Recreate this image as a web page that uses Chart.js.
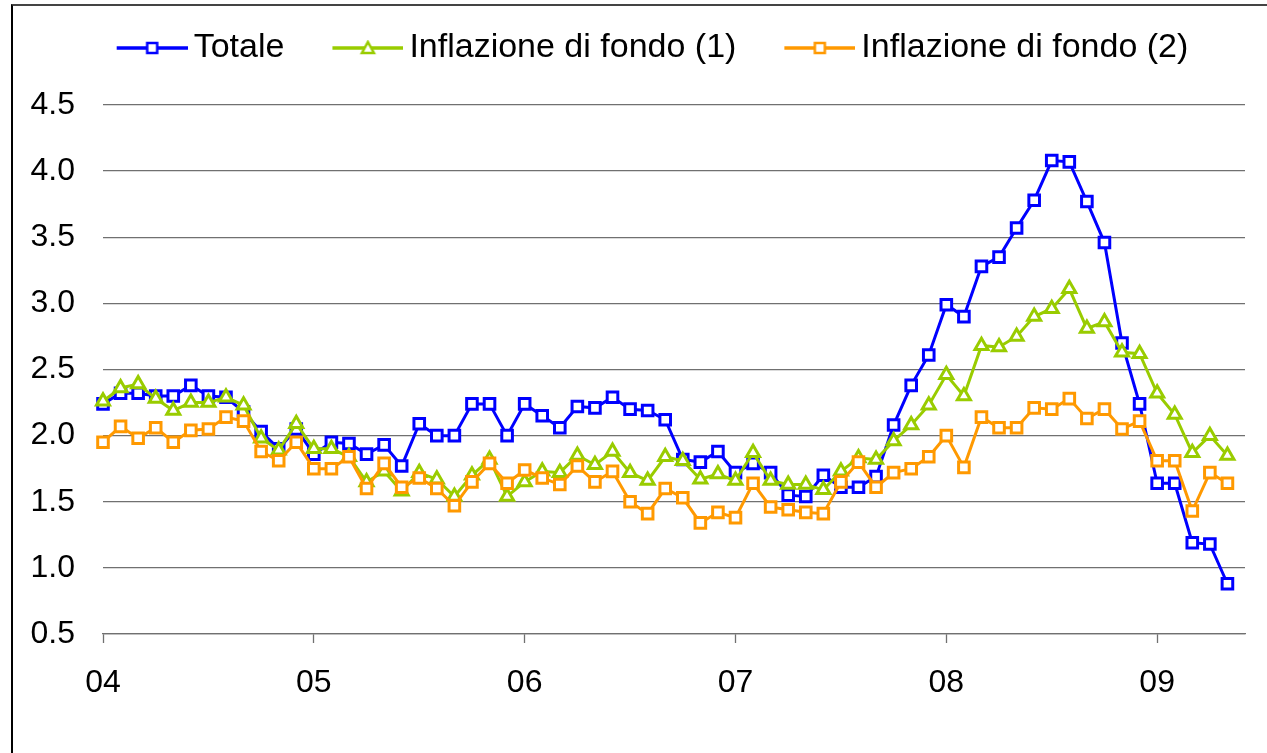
<!DOCTYPE html>
<html>
<head>
<meta charset="utf-8">
<script src="https://cdn.jsdelivr.net/npm/chart.js@4/dist/chart.umd.min.js"></script>
<style>
  html, body { margin: 0; padding: 0; background: #fff; }
  #wrap { position: relative; width: 1267px; height: 753px; overflow: hidden; }
  #frame { position: absolute; left: 11px; top: 4px; width: 1300px; height: 800px;
           border-left: 2px solid #000; border-top: 2px solid #444; }
  canvas { position: absolute; left: 0; top: 0; }
</style>
</head>
<body>
<div id="wrap"><div id="frame"></div><canvas id="chart" width="1267" height="753"></canvas></div>
<script>
// monthly data, Jan 2004 - May 2009
const anni = ['04', '05', '06', '07', '08', '09']
const mesi = []
for (let a of anni) {
    for (let m = 1; m <= 12; m++) mesi.push(m + '/' + a)
}
mesi.length = 66 // axis runs up to Jun 09

const totale = [
    2.24, 2.32, 2.32, 2.30, 2.30, 2.38, 2.30, 2.29, 2.18, 2.03, 1.90, 2.05,
    1.86, 1.95, 1.94, 1.86, 1.93, 1.77, 2.09, 2.00, 2.00, 2.24, 2.24, 2.00,
    2.24, 2.15, 2.06, 2.22, 2.21, 2.29, 2.20, 2.19, 2.12, 1.82, 1.80, 1.88,
    1.72, 1.79, 1.72, 1.55, 1.54, 1.70, 1.61, 1.61, 1.69, 2.08, 2.38, 2.61,
    2.99, 2.90, 3.28, 3.35, 3.57, 3.78, 4.08, 4.07, 3.77, 3.46, 2.70, 2.24,
    1.64, 1.64, 1.19, 1.18, 0.88
]
const fondo1 = [
    2.26, 2.36, 2.39, 2.28, 2.19, 2.25, 2.25, 2.29, 2.23, 1.98, 1.89, 2.09,
    1.90, 1.90, 1.84, 1.65, 1.73, 1.58, 1.72, 1.67, 1.54, 1.70, 1.82, 1.54,
    1.65, 1.73, 1.72, 1.85, 1.78, 1.88, 1.72, 1.66, 1.84, 1.81, 1.67, 1.71,
    1.66, 1.87, 1.66, 1.63, 1.63, 1.59, 1.73, 1.83, 1.82, 1.96, 2.08, 2.23,
    2.46, 2.30, 2.68, 2.67, 2.75, 2.90, 2.96, 3.11, 2.81, 2.86, 2.63, 2.62,
    2.32, 2.16, 1.87, 2.00, 1.85
]
const fondo2 = [
    1.95, 2.07, 1.98, 2.06, 1.95, 2.04, 2.05, 2.14, 2.11, 1.88, 1.81, 1.95,
    1.75, 1.75, 1.84, 1.60, 1.79, 1.61, 1.68, 1.60, 1.47, 1.65, 1.79, 1.64,
    1.74, 1.68, 1.63, 1.77, 1.65, 1.73, 1.50, 1.41, 1.60, 1.53, 1.34, 1.42,
    1.38, 1.64, 1.46, 1.44, 1.42, 1.41, 1.65, 1.80, 1.61, 1.72, 1.75, 1.84,
    2.00, 1.76, 2.14, 2.06, 2.06, 2.21, 2.20, 2.28, 2.13, 2.20, 2.05, 2.11,
    1.81, 1.81, 1.43, 1.72, 1.64
]

const BLU = '#0000ff'
const VERDE = '#99cc00'
const ARANCIO = '#ff9900'
const griglia = '#707070'
const fontFam = '"Liberation Sans", Arial, sans-serif'

Chart.defaults.font.family = fontFam

// little line+marker picture for the legend
function legendIcon(color, shape) {
    let c = document.createElement('canvas')
    c.width = 120
    c.height = 16
    let g = c.getContext('2d')
    g.strokeStyle = color
    g.lineWidth = 3.5
    g.beginPath()
    g.moveTo(49, 8)
    g.lineTo(120, 8)
    g.stroke()
    g.fillStyle = '#fff'
    g.lineWidth = 2.5
    if (shape === 'triangle') {
        g.beginPath()
        g.moveTo(84.5, 2)
        g.lineTo(90.5, 13)
        g.lineTo(78.5, 13)
        g.closePath()
        g.fill()
        g.stroke()
    } else {
        g.fillRect(79.5, 3, 10, 10)
        g.strokeRect(79.5, 3, 10, 10)
    }
    return c
}

function serie(label, data, color, shape, order) {
    return {
        label: label,
        data: data,
        borderColor: color,
        backgroundColor: '#fff',
        borderWidth: 3,
        pointStyle: shape,
        pointRadius: shape === 'triangle' ? 7.5 : 7.5,
        pointBorderWidth: 3,
        pointBackgroundColor: '#fff',
        pointBorderColor: color,
        tension: 0,
        order: order,
        xAxisID: 'x',
        yAxisID: 'y'
    }
}

const icone = [legendIcon(BLU, 'rect'), legendIcon(VERDE, 'triangle'), legendIcon(ARANCIO, 'rect')]

let chart = new Chart('chart', {
    type: 'line',
    data: {
        labels: mesi,
        datasets: [
            serie('Totale', totale, BLU, 'rect', 3),
            serie('Inflazione di fondo (1)', fondo1, VERDE, 'triangle', 2),
            serie('Inflazione di fondo (2)', fondo2, ARANCIO, 'rect', 1)
        ]
    },
    options: {
        responsive: false,
        animation: false,
        layout: { padding: { top: 21, left: 0, right: 0, bottom: 0 } },
        plugins: {
            tooltip: { enabled: false },
            legend: {
                position: 'top',
                labels: {
                    usePointStyle: true,
                    pointStyleWidth: 98,
                    padding: 10,
                    color: '#000',
                    font: { size: 34 },
                    sort: (a, b) => a.datasetIndex - b.datasetIndex,
                    generateLabels(ch) {
                        let items = Chart.defaults.plugins.legend.labels.generateLabels(ch)
                        items.forEach(it => { it.pointStyle = icone[it.datasetIndex] })
                        return items
                    }
                }
            }
        },
        scales: {
            x: {
                type: 'category',
                position: 'bottom',
                offset: false,
                grid: {
                    drawOnChartArea: false,
                    drawTicks: true,
                    tickLength: 9,
                    tickWidth: 1.3,
                    tickColor: c => (c.index % 12 === 0 ? griglia : 'rgba(0,0,0,0)')
                },
                border: { display: true, color: griglia, width: 1.3 },
                ticks: {
                    autoSkip: false,
                    maxRotation: 0,
                    minRotation: 0,
                    padding: 21,
                    color: '#000',
                    font: { size: 32 },
                    callback: (v, i) => (i % 12 === 0 ? anni[i / 12] : '')
                },
                afterFit(s) { s.height = 119 }
            },
            y: {
                min: 0.5,
                max: 4.5,
                grid: { color: griglia, lineWidth: 1.3, drawTicks: false },
                border: { display: false },
                ticks: {
                    stepSize: 0.5,
                    padding: 28,
                    color: '#000',
                    font: { size: 32 },
                    callback: v => v.toFixed(1)
                },
                afterFit(s) { s.width = 103 }
            },
            // empty boxes that only reserve space
            xTop: {
                type: 'category',
                position: 'top',
                grid: { display: false },
                border: { display: false },
                ticks: { display: false },
                afterFit(s) { s.height = 30 }
            },
            yRight: {
                type: 'linear',
                position: 'right',
                grid: { display: false },
                border: { display: false },
                ticks: { display: false },
                afterFit(s) { s.width = 22 }
            }
        }
    }
})
</script>
</body>
</html>
